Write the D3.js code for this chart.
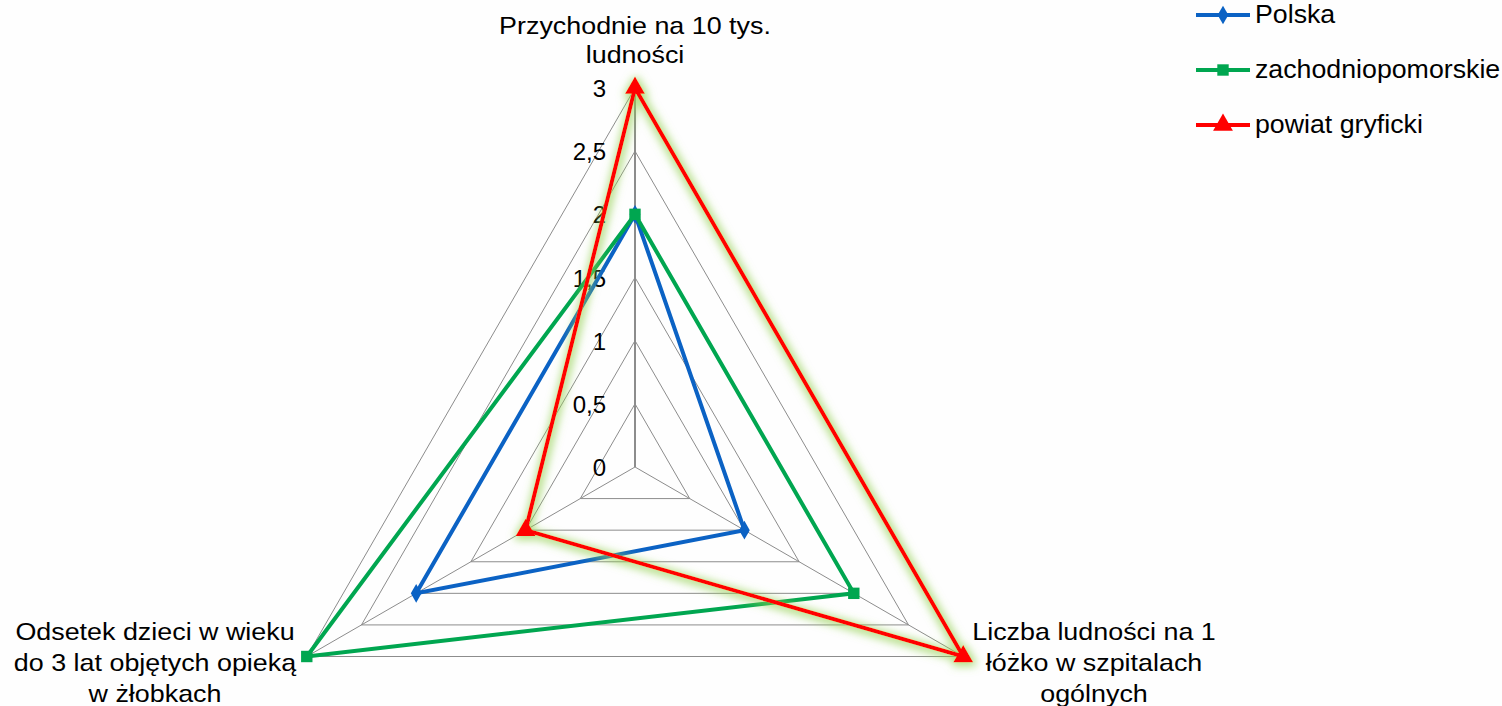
<!DOCTYPE html>
<html>
<head>
<meta charset="utf-8">
<script src="https://cdn.jsdelivr.net/npm/d3@7"></script>
<style>
  body { margin: 0; background: #fefefe; }
  svg { display: block; font-family: "Liberation Sans", Arial, sans-serif; }
</style>
</head>
<body>
<svg id="chart" width="1502" height="706"></svg>
<script>
const axes = [
  ["Przychodnie na 10 tys.", "ludności"],
  ["Liczba ludności na 1", "łóżko w szpitalach", "ogólnych"],
  ["Odsetek dzieci w wieku", "do 3 lat objętych opieką", "w żłobkach"]
];
const seriesNames = ["Polska", "zachodniopomorskie", "powiat gryficki"];
const polska = [2, 1, 2];
const zachodniopomorskie = [2, 2, 3];
const powiatGryficki = [3, 3, 1];
const ticks = [0, 0.5, 1, 1.5, 2, 2.5, 3];
const colors = ["#0b62c4", "#00a650", "#ff0000"];
const symbols = [d3.symbolDiamond, d3.symbolSquare, d3.symbolTriangle];
const symSizes = [100, 130, 170];

const svg = d3.select("#chart");
const cx = 635, cy = 467;
const r = d3.scaleLinear().domain([0, 3]).range([0, 379]);
const angle = i => (i * 2 * Math.PI) / axes.length;
const pt = (i, v) => [cx + r(v) * Math.sin(angle(i)), cy - r(v) * Math.cos(angle(i))];

// soft green glow behind the red series
const defs = svg.append("defs");
const glow = defs.append("filter").attr("id", "glow")
  .attr("x", "-20%").attr("y", "-20%").attr("width", "140%").attr("height", "140%");
glow.append("feMorphology").attr("in", "SourceAlpha").attr("operator", "dilate").attr("radius", 2).attr("result", "d");
glow.append("feGaussianBlur").attr("in", "d").attr("stdDeviation", 4).attr("result", "b");
glow.append("feFlood").attr("flood-color", "#92d050").attr("flood-opacity", 0.7);
glow.append("feComposite").attr("in2", "b").attr("operator", "in").attr("result", "g");
glow.append("feOffset").attr("in", "g").attr("dx", 1).attr("dy", 2).attr("result", "go");
const m = glow.append("feMerge");
m.append("feMergeNode").attr("in", "go");
m.append("feMergeNode").attr("in", "SourceGraphic");

// grid rings
ticks.slice(1).forEach(t => {
  svg.append("path")
    .attr("d", d3.line()(axes.map((a, i) => pt(i, t))) + "Z")
    .attr("fill", "none").attr("stroke", "#8c8c8c").attr("stroke-width", 1);
});
// spokes
axes.forEach((a, i) => {
  const [x, y] = pt(i, 3);
  svg.append("line").attr("x1", cx).attr("y1", cy).attr("x2", x).attr("y2", y)
    .attr("stroke", "#8c8c8c").attr("stroke-width", i === 0 ? 2 : 1);
});

// tick labels
svg.selectAll(".tick").data(ticks).enter().append("text")
  .attr("x", cx - 29).attr("y", d => cy - r(d) + 9)
  .attr("text-anchor", "end").attr("font-size", 24).attr("fill", "#000")
  .text(d => String(d).replace(".", ","));

// series
const data = [polska, zachodniopomorskie, powiatGryficki];
data.forEach((vals, s) => {
  const g = svg.append("g");
  if (s === 2) g.attr("filter", "url(#glow)");
  g.append("path")
    .attr("d", d3.line()(vals.map((v, i) => pt(i, v))) + "Z")
    .attr("fill", "none").attr("stroke", colors[s]).attr("stroke-width", 4)
    .attr("stroke-linejoin", "miter");
  vals.forEach((v, i) => {
    const [x, y] = pt(i, v);
    g.append("path")
      .attr("d", d3.symbol().type(symbols[s]).size(symSizes[s])())
      .attr("transform", `translate(${x},${y})`)
      .attr("fill", colors[s]);
  });
});

// axis labels
const labelPos = [
  { x: 635, y: 34, dy: 29 },
  { x: 1094, y: 640, dy: 31 },
  { x: 155, y: 640, dy: 31 }
];
axes.forEach((lines, i) => {
  const t = svg.append("text").attr("text-anchor", "middle").attr("font-size", 24).attr("fill", "#000")
    .attr("transform", `translate(${labelPos[i].x},${labelPos[i].y}) scale(1.12,1)`);
  lines.forEach((l, k) => {
    t.append("tspan").attr("x", 0).attr("y", k * labelPos[i].dy).text(l);
  });
});

// legend
seriesNames.forEach((n, s) => {
  const y = 15 + s * 55;
  svg.append("line").attr("x1", 1196).attr("x2", 1250).attr("y1", y).attr("y2", y)
    .attr("stroke", colors[s]).attr("stroke-width", 4);
  svg.append("path")
    .attr("d", d3.symbol().type(symbols[s]).size(symSizes[s])())
    .attr("transform", `translate(1223,${y})`).attr("fill", colors[s]);
  svg.append("text").attr("transform", `translate(1255,${y + 8}) scale(1.07,1)`)
    .attr("font-size", 25).attr("fill", "#000").text(n);
});
</script>
</body>
</html>
